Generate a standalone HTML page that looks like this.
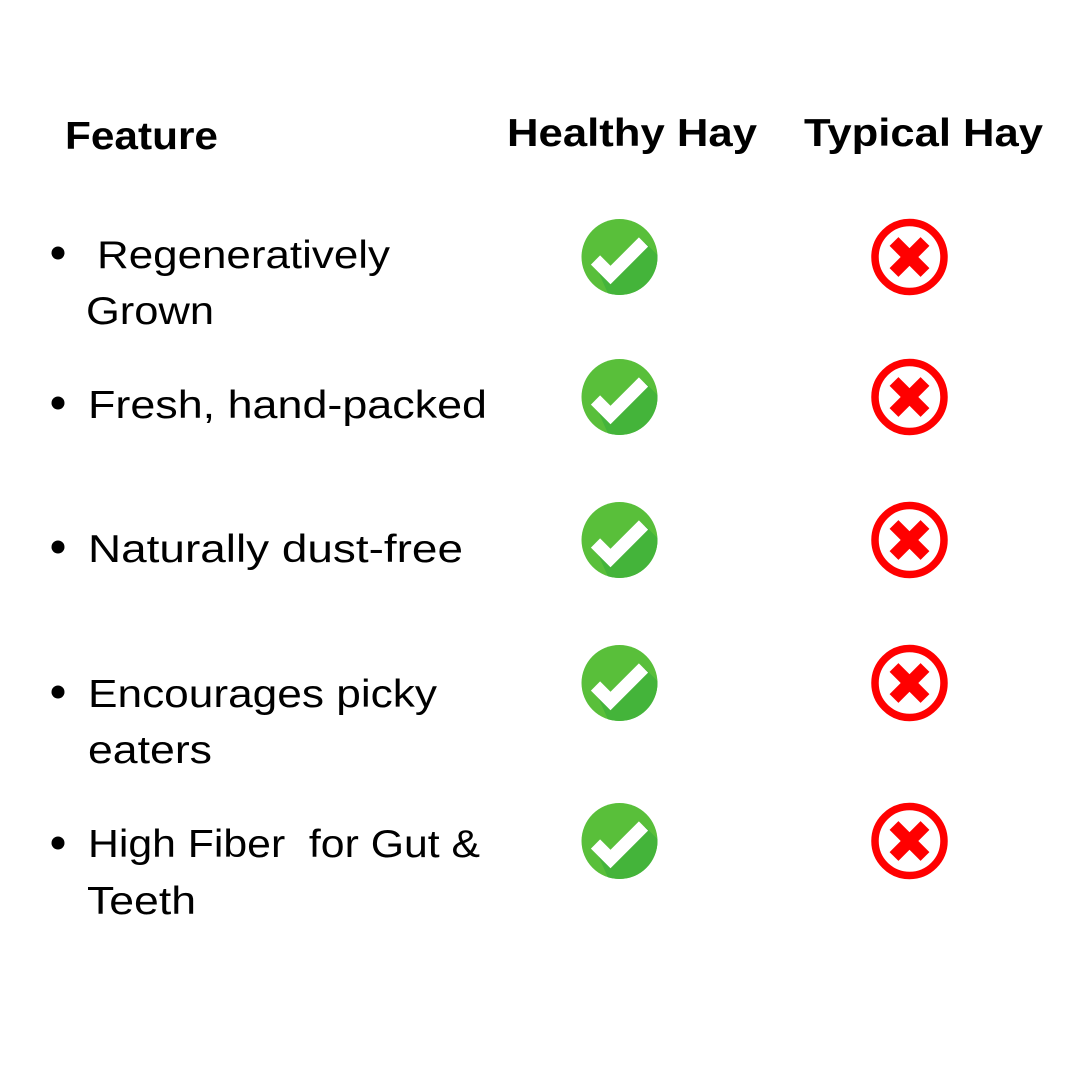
<!DOCTYPE html>
<html><head><meta charset="utf-8"><style>
html,body{margin:0;padding:0;background:#fff;}
svg{display:block;}
text{font-family:"Liberation Sans",sans-serif;fill:#000;}
.h{font-weight:bold;font-size:39px;}
.b{font-size:39px;}
</style></head><body>
<svg width="1080" height="1080" viewBox="0 0 1080 1080" xmlns="http://www.w3.org/2000/svg">
<defs>
<g id="chk">
  <clipPath id="cc"><circle cx="0" cy="0" r="38"/></clipPath>
  <circle cx="0" cy="0" r="38" fill="#59bf3a"/>
  <polygon points="-26,4 -9,21 26,-14 60,20 20,60 -10,40" fill="#44b43a" clip-path="url(#cc)"/>
  <polyline points="-24,3 -9,18 24,-15" fill="none" stroke="#fff" stroke-width="13" stroke-linecap="butt" stroke-linejoin="miter"/>
</g>
<g id="xx">
  <circle cx="0" cy="0" r="34.5" fill="#fff" stroke="#ff0000" stroke-width="7.5"/>
  <line x1="-15.5" y1="-15.5" x2="15.5" y2="15.5" stroke="#ff0000" stroke-width="12.5"/>
  <line x1="15.5" y1="-15.5" x2="-15.5" y2="15.5" stroke="#ff0000" stroke-width="12.5"/>
</g>
</defs>

<text class="h" x="65" y="149" textLength="153" lengthAdjust="spacingAndGlyphs">Feature</text>
<text class="h" x="507" y="146" textLength="250" lengthAdjust="spacingAndGlyphs">Healthy Hay</text>
<text class="h" x="804" y="146" textLength="239" lengthAdjust="spacingAndGlyphs">Typical Hay</text>

<circle cx="58" cy="253" r="6.5" fill="#000"/>
<circle cx="58" cy="403" r="6.5" fill="#000"/>
<circle cx="58" cy="547" r="6.5" fill="#000"/>
<circle cx="58" cy="692" r="6.5" fill="#000"/>
<circle cx="58" cy="843" r="6.5" fill="#000"/>

<text class="b" x="97" y="268" textLength="293" lengthAdjust="spacingAndGlyphs">Regeneratively</text>
<text class="b" x="86" y="324" textLength="128" lengthAdjust="spacingAndGlyphs">Grown</text>
<text class="b" x="88" y="418" textLength="399" lengthAdjust="spacingAndGlyphs">Fresh, hand-packed</text>
<text class="b" x="88" y="562" textLength="375" lengthAdjust="spacingAndGlyphs">Naturally dust-free</text>
<text class="b" x="88" y="707" textLength="349" lengthAdjust="spacingAndGlyphs">Encourages picky</text>
<text class="b" x="88" y="763" textLength="124" lengthAdjust="spacingAndGlyphs">eaters</text>
<text class="b" x="88" y="857" textLength="392" lengthAdjust="spacingAndGlyphs">High Fiber&#160; for Gut &amp;</text>
<text class="b" x="87" y="914" textLength="109" lengthAdjust="spacingAndGlyphs">Teeth</text>

<use href="#chk" x="619.5" y="257"/>
<use href="#chk" x="619.5" y="397"/>
<use href="#chk" x="619.5" y="540"/>
<use href="#chk" x="619.5" y="683"/>
<use href="#chk" x="619.5" y="841"/>

<use href="#xx" x="909.5" y="257"/>
<use href="#xx" x="909.5" y="397"/>
<use href="#xx" x="909.5" y="540"/>
<use href="#xx" x="909.5" y="683"/>
<use href="#xx" x="909.5" y="841"/>
</svg>
</body></html>
